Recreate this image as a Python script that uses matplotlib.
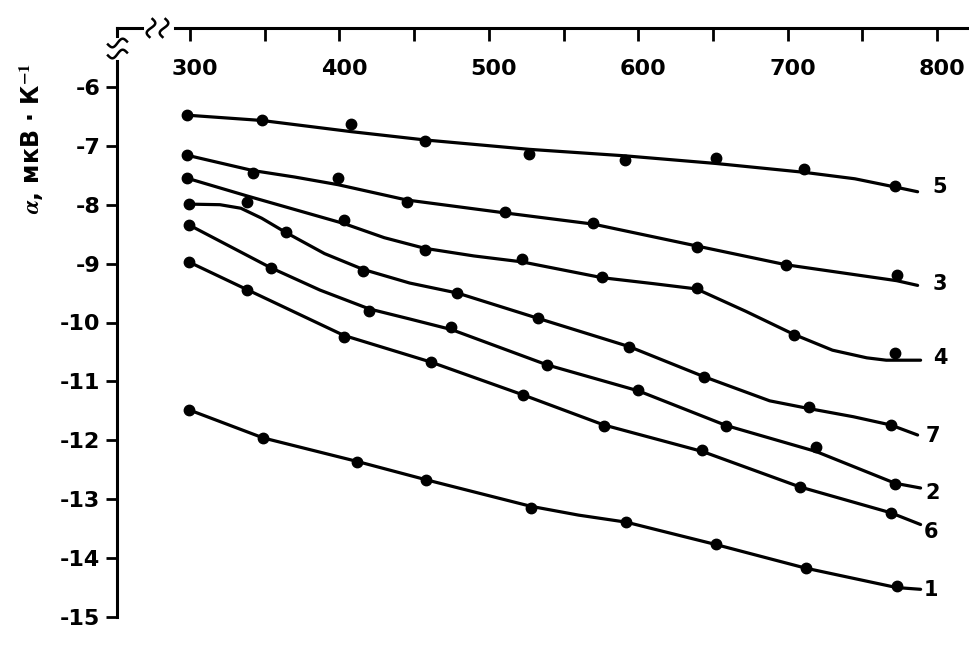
import numpy as np
import matplotlib
matplotlib.use('Agg')
import matplotlib.pyplot as plt
from matplotlib.lines import Line2D
from matplotlib.transforms import ScaledTranslation

# ---- data (T in K, alpha in uV/K) ----
# measured points
t5 = [298, 348, 408, 457, 527, 591, 652, 711, 772]
a5 = [-6.48, -6.56, -6.63, -6.92, -7.14, -7.24, -7.21, -7.39, -7.69]
t3 = [298, 342, 399, 445, 511, 570, 639, 699, 773]
a3 = [-7.16, -7.46, -7.54, -7.95, -8.13, -8.31, -8.71, -9.02, -9.19]
t4 = [298, 338, 403, 457, 522, 576, 639, 704, 772]
a4 = [-7.55, -7.96, -8.26, -8.77, -8.93, -9.23, -9.41, -10.21, -10.51]
t7 = [299, 364, 416, 479, 533, 594, 644, 714, 769]
a7 = [-7.99, -8.47, -9.13, -9.50, -9.93, -10.41, -10.92, -11.44, -11.74]
t2 = [299, 354, 420, 475, 539, 600, 659, 719, 772]
a2 = [-8.34, -9.07, -9.81, -10.07, -10.72, -11.14, -11.75, -12.11, -12.75]
t6 = [299, 338, 403, 461, 523, 577, 643, 708, 769]
a6 = [-8.97, -9.44, -10.24, -10.67, -11.23, -11.76, -12.17, -12.79, -13.23]
t1 = [299, 349, 412, 458, 528, 592, 652, 712, 773]
a1 = [-11.48, -11.96, -12.36, -12.67, -13.15, -13.38, -13.76, -14.17, -14.48]

# hand drawn curves through the points
t5l = [298, 348, 408, 457, 527, 591, 652, 711, 745, 772, 787]
a5l = [-6.48, -6.57, -6.76, -6.90, -7.06, -7.17, -7.30, -7.45, -7.56, -7.70, -7.78]
t3l = [298, 342, 370, 399, 445, 511, 570, 639, 699, 773, 787]
a3l = [-7.16, -7.42, -7.53, -7.66, -7.92, -8.14, -8.33, -8.70, -9.02, -9.29, -9.37]
t4l = [298, 338, 403, 430, 457, 490, 522, 576, 610, 639, 672, 704, 730, 753, 766, 789]
a4l = [-7.55, -7.85, -8.32, -8.56, -8.74, -8.87, -8.97, -9.24, -9.34, -9.43, -9.81, -10.20, -10.47, -10.60, -10.64, -10.64]
t7l = [299, 320, 334, 348, 364, 390, 416, 447, 479, 533, 594, 644, 688, 714, 744, 769, 787]
a7l = [-7.99, -8.00, -8.06, -8.23, -8.47, -8.83, -9.10, -9.33, -9.50, -9.93, -10.41, -10.92, -11.33, -11.46, -11.60, -11.74, -11.91]
t2l = [299, 354, 387, 420, 447, 475, 539, 600, 659, 719, 772, 789]
a2l = [-8.34, -9.07, -9.45, -9.77, -9.94, -10.12, -10.72, -11.16, -11.75, -12.19, -12.73, -12.81]
t6l = [299, 338, 403, 461, 523, 577, 643, 708, 769, 789]
a6l = [-8.97, -9.44, -10.22, -10.67, -11.23, -11.74, -12.19, -12.79, -13.23, -13.43]
t1l = [299, 349, 412, 458, 528, 560, 592, 652, 712, 760, 773, 789]
a1l = [-11.48, -11.96, -12.36, -12.67, -13.12, -13.27, -13.39, -13.77, -14.17, -14.43, -14.50, -14.53]

names = ['5', '3', '4', '7', '2', '6', '1']
x_ticks = [300, 400, 500, 600, 700, 800]
y_ticks = [-6, -7, -8, -9, -10, -11, -12, -13, -14, -15]

plt.rcParams['font.family'] = ['DejaVu Sans']
plt.rcParams['font.weight'] = 'bold'
plt.rcParams['mathtext.fontset'] = 'stix'
plt.rcParams['axes.unicode_minus'] = False

W, H = 969, 646
fig = plt.figure(figsize=(W / 100, H / 100), dpi=100)
ax = fig.add_axes([117 / W, 29 / H, 852 / W, 589 / H])

points = [(t5, a5), (t3, a3), (t4, a4), (t7, a7), (t2, a2), (t6, a6), (t1, a1)]
lines = [(t5l, a5l), (t3l, a3l), (t4l, a4l), (t7l, a7l), (t2l, a2l), (t6l, a6l), (t1l, a1l)]
for (tl, al), (t, a) in zip(lines, points):
    ax.plot(tl, al, color='black', lw=2.3, solid_joinstyle='round', solid_capstyle='round', clip_on=False)
    ax.plot(t, a, 'o', color='black', ms=7.5, clip_on=False)

# curve numbers at the right end
lab_pos = [(802, -7.70), (802, -9.34), (802, -10.60), (797, -11.92),
           (797, -12.90), (796, -13.55), (796, -14.54)]
for n, (x, y) in zip(names, lab_pos):
    ax.text(x, y, n, fontsize=15, fontweight='bold', ha='center', va='center')

ax.set_xlim(251.1, 821.4)
ax.set_ylim(-15, -5)

for s in ['right', 'bottom']:
    ax.spines[s].set_visible(False)
for s in ['left', 'top']:
    ax.spines[s].set_linewidth(2.2)

ax.xaxis.tick_top()
ax.set_xticks(x_ticks)
ax.set_xticklabels([str(v) for v in x_ticks])
ax.set_xticks([350, 450, 550, 650, 750], minor=True)
ax.tick_params(axis='x', which='both', direction='in', length=9, width=2,
               top=True, bottom=False, labeltop=True, labelbottom=False,
               pad=-37, labelsize=16)
ax.set_yticks(y_ticks)
ax.set_yticklabels([str(v) for v in y_ticks])
ax.tick_params(axis='y', direction='out', length=8, width=2, pad=4, labelsize=16)

off = ScaledTranslation(5 / 100, 0, fig.dpi_scale_trans)
for lab in ax.get_xticklabels():
    lab.set_transform(lab.get_transform() + off)

fig.text(31 / W, 1 - 138 / H, '$\\alpha$, мкВ · К$^{\\mathbf{-1}}$', rotation=90,
         ha='center', va='center', fontsize=17, fontweight='bold')


# axis break marks (pixel coordinates, origin top-left)
def px(xs, ys):
    return np.asarray(xs) / W, 1 - np.asarray(ys) / H


fig.add_artist(Line2D(*px([147, 170], [28, 28]), color='white', lw=5, transform=fig.transFigure))
fig.add_artist(Line2D(*px([117, 117], [41, 56]), color='white', lw=5, transform=fig.transFigure))
s = np.linspace(0, 1, 40)
for cx in [151, 164]:
    xs = cx + 3.5 * np.sin(2 * np.pi * s) + 3 * (0.5 - s)
    ys = 19 + 18 * s
    fig.add_artist(Line2D(*px(xs, ys), color='black', lw=1.8, transform=fig.transFigure))
for cy in [43, 54]:
    xs = 108 + 19 * s
    ys = cy + 3.5 * np.sin(2 * np.pi * s) + 3 * (0.5 - s)
    fig.add_artist(Line2D(*px(xs, ys), color='black', lw=1.8, transform=fig.transFigure))

fig.savefig('out.png', dpi=100, facecolor='white')
